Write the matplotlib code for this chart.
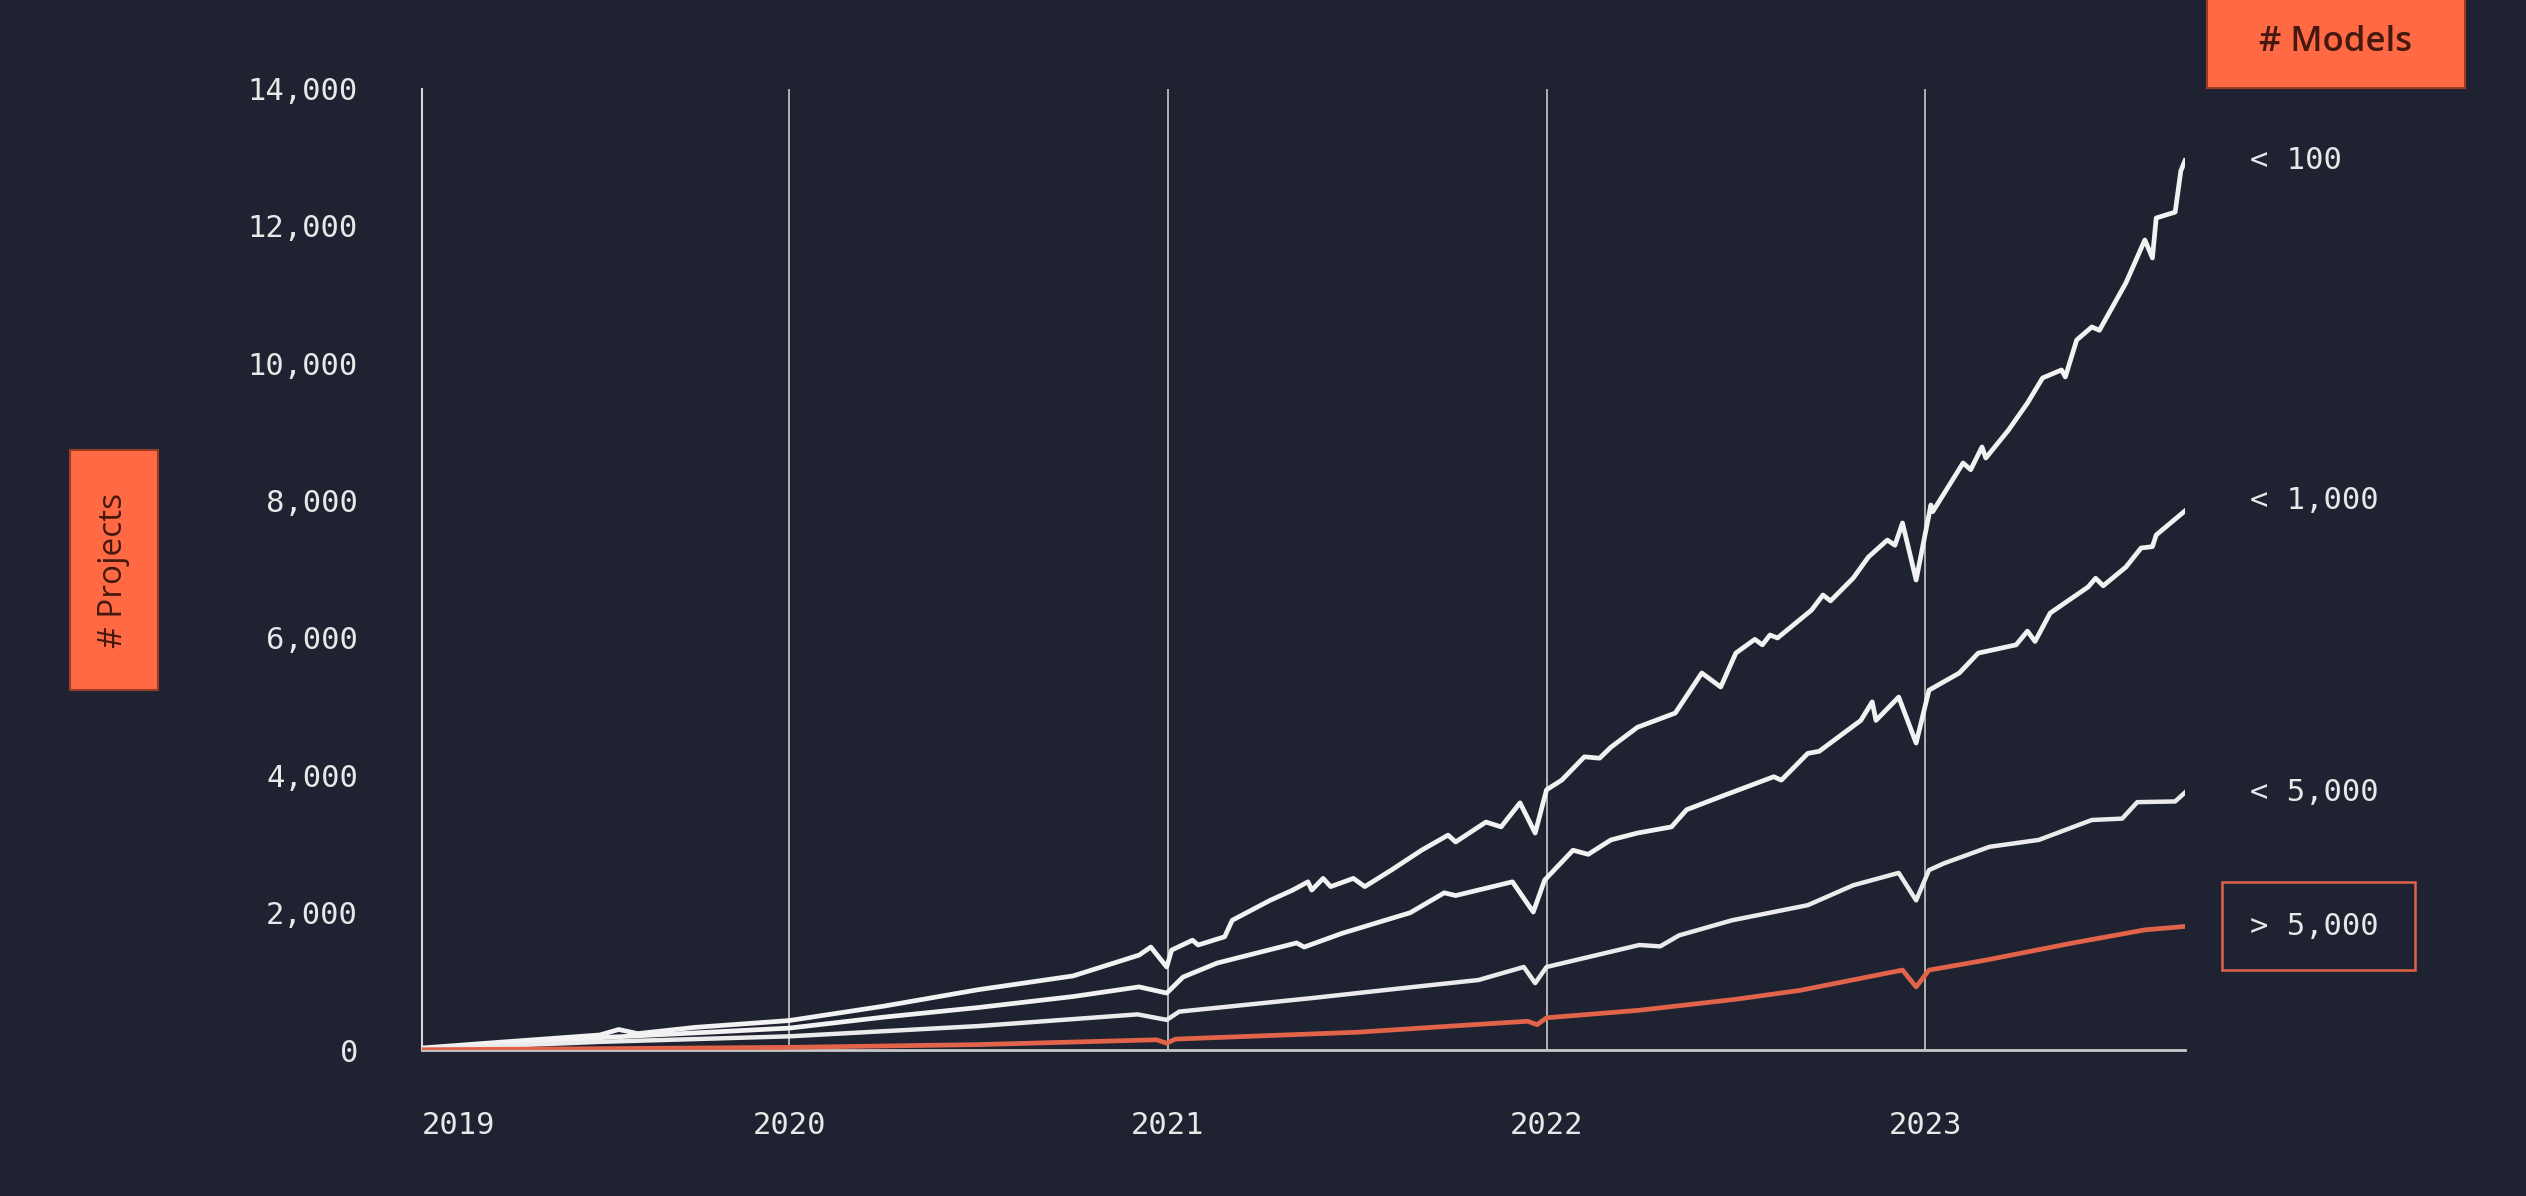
import matplotlib
matplotlib.use("Agg")
import matplotlib.pyplot as plt
from matplotlib.patches import Rectangle
from matplotlib.transforms import blended_transform_factory

# decimal years, one list per series
x_100 = [2019.03, 2019.25, 2019.5, 2019.55, 2019.6, 2019.75, 2020.0, 2020.25, 2020.5, 2020.75,
         2020.924, 2020.955, 2020.997, 2021.01, 2021.065, 2021.08, 2021.15, 2021.17, 2021.27, 2021.33,
         2021.37, 2021.38, 2021.41, 2021.43, 2021.49, 2021.52, 2021.59, 2021.67, 2021.74, 2021.76,
         2021.84, 2021.88, 2021.93, 2021.97, 2022.0, 2022.04, 2022.10, 2022.14, 2022.17, 2022.24,
         2022.34, 2022.41, 2022.46, 2022.50, 2022.55, 2022.57, 2022.59, 2022.61, 2022.70, 2022.73,
         2022.75, 2022.81, 2022.85, 2022.90, 2022.92, 2022.94, 2022.976, 2023.015, 2023.02, 2023.10,
         2023.12, 2023.15, 2023.16, 2023.22, 2023.27, 2023.31, 2023.36, 2023.37, 2023.40, 2023.44,
         2023.46, 2023.53, 2023.58, 2023.60, 2023.61, 2023.66, 2023.675, 2023.686]
lt_100 = [30, 120, 220, 300, 240, 330, 430, 640, 880, 1080,
          1383, 1500, 1210, 1456, 1600, 1530, 1650, 1890, 2180, 2330,
          2450, 2330, 2500, 2380, 2500, 2380, 2620, 2910, 3130, 3030,
          3320, 3250, 3600, 3160, 3790, 3930, 4270, 4250, 4410, 4700,
          4907, 5490, 5286, 5781, 5980, 5900, 6043, 6000, 6407, 6626,
          6540, 6873, 7179, 7426, 7350, 7674, 6844, 7936, 7840, 8548,
          8450, 8781, 8620, 9028, 9421, 9786, 9902, 9800, 10339, 10528,
          10480, 11170, 11795, 11533, 12115, 12200, 12800, 12950]

x_1k = [2019.03, 2019.25, 2019.5, 2019.75, 2020.0, 2020.25, 2020.5, 2020.75, 2020.924, 2020.997,
        2021.04, 2021.13, 2021.34, 2021.36, 2021.46, 2021.64, 2021.73, 2021.76, 2021.91, 2021.965,
        2021.995, 2022.07, 2022.11, 2022.17, 2022.24, 2022.33, 2022.37, 2022.46, 2022.60, 2022.62,
        2022.69, 2022.72, 2022.83, 2022.86, 2022.87, 2022.93, 2022.976, 2023.01, 2023.09, 2023.14,
        2023.24, 2023.27, 2023.29, 2023.33, 2023.43, 2023.45, 2023.47, 2023.53, 2023.57, 2023.60,
        2023.61, 2023.686]
lt_1000 = [20, 80, 180, 250, 320, 480, 620, 780, 920, 830,
           1063, 1267, 1560, 1500, 1700, 2000, 2290, 2250, 2450, 2010,
           2475, 2910, 2850, 3060, 3160, 3250, 3500, 3690, 3980, 3930,
           4320, 4350, 4800, 5070, 4800, 5140, 4470, 5240, 5490, 5780,
           5900, 6100, 5950, 6363, 6742, 6870, 6760, 7033, 7310, 7330,
           7500, 7850]

x_5k = [2019.03, 2019.5, 2020.0, 2020.5, 2020.92, 2020.997, 2021.03, 2021.38, 2021.65, 2021.82,
        2021.94, 2021.97, 2022.0, 2022.245, 2022.3, 2022.35, 2022.49, 2022.69, 2022.81, 2022.93,
        2022.976, 2023.01, 2023.05, 2023.17, 2023.3, 2023.44, 2023.52, 2023.56, 2023.66, 2023.686]
lt_5000 = [15, 120, 200, 350, 520, 440, 560, 757, 920, 1020,
           1210, 975, 1210, 1530, 1510, 1670, 1890, 2110, 2400, 2580,
           2180, 2620, 2720, 2960, 3060, 3350, 3370, 3610, 3620, 3750]

x_gt = [2019.03, 2019.5, 2020.0, 2020.5, 2020.97, 2020.997, 2021.02, 2021.5, 2021.75, 2021.95,
        2021.975, 2022.0, 2022.245, 2022.5, 2022.67, 2022.94, 2022.976, 2023.01, 2023.16, 2023.39,
        2023.58, 2023.686]
gt_5000 = [5, 20, 40, 80, 150, 100, 160, 260, 350, 420,
           370, 470, 580, 740, 870, 1165, 920, 1165, 1310, 1560,
           1750, 1800]

series_labels = ["< 100", "< 1,000", "< 5,000", "> 5,000"]
year_lines = [2020, 2021, 2022, 2023]
xtick_labels = ["2019", "2020", "2021", "2022", "2023"]
yticks = [0, 2000, 4000, 6000, 8000, 10000, 12000, 14000]

BG = "#1f2331"
WHITE = "#f2f2f2"
ORANGE = "#e0634a"
BOX = "#ff6a45"
TXT = "#e8e8e8"
mono = "DejaVu Sans Mono"

fig = plt.figure(figsize=(25.26, 11.96), dpi=100, facecolor=BG)
ax = fig.add_axes([0.167, 0.122, 0.698, 0.804])
ax.set_facecolor(BG)

for yr in year_lines:
    ax.axvline(yr, color="#c9c9c9", lw=1.2, zorder=1)

ax.plot(x_100, lt_100, color=WHITE, lw=3.4, zorder=3)
ax.plot(x_1k, lt_1000, color=WHITE, lw=3.4, zorder=3)
ax.plot(x_5k, lt_5000, color="#ebebeb", lw=3.2, zorder=3)
ax.plot(x_gt, gt_5000, color=ORANGE, lw=3.4, zorder=4)

ax.set_xlim(x_100[0], x_100[-1])
ax.set_ylim(0, 14000)

for s in ["top", "right"]:
    ax.spines[s].set_visible(False)
ax.spines["left"].set_color("#d8d8d8")
ax.spines["left"].set_linewidth(1.5)
ax.spines["bottom"].set_color("#c8c8c8")
ax.spines["bottom"].set_linewidth(2)

ax.set_yticks(yticks)
ax.set_yticklabels([f"{v:,}" for v in yticks])
ax.set_xticks([x_100[0]] + year_lines)
ax.set_xticklabels(xtick_labels)
ax.get_xticklabels()[0].set_ha("left")
ax.tick_params(axis="y", length=0, pad=46, labelsize=22, labelcolor=TXT)
ax.tick_params(axis="x", length=0, pad=44, labelsize=22, labelcolor=TXT)
for lab in ax.get_xticklabels() + ax.get_yticklabels():
    lab.set_fontfamily(mono)

# end labels on the right
tr = blended_transform_factory(ax.transAxes, ax.transData)
ends = [lt_100[-1], lt_1000[-1] + 150, lt_5000[-1], gt_5000[-1]]
for lab, yv in zip(series_labels, ends):
    ax.text(1.037, yv, lab, transform=tr, ha="left", va="center",
            fontsize=22, color=TXT, family=mono, clip_on=False)

# box around > 5,000
fig.add_artist(Rectangle((0.8797, 0.189), 0.0764, 0.0736, transform=fig.transFigure,
                         facecolor="none", edgecolor=ORANGE, lw=1.8))

# "# Models" header box
fig.add_artist(Rectangle((0.8737, 0.9264), 0.1021, 0.08, transform=fig.transFigure,
                         facecolor=BOX, edgecolor="#9a3b26", lw=1.5))
fig.text(0.9248, 0.965, "# Models", ha="center", va="center", fontsize=25,
         fontweight="semibold", color="#45190f", family="Open Sans")

# "# Projects" axis label box
fig.add_artist(Rectangle((0.0277, 0.4231), 0.0348, 0.2007, transform=fig.transFigure,
                         facecolor=BOX, edgecolor="#9a3b26", lw=1.5))
fig.text(0.0451, 0.5234, "# Projects", ha="center", va="center", fontsize=24,
         rotation=90, color="#45190f", family="Open Sans")

fig.savefig("out.png", dpi=100, facecolor=BG)
